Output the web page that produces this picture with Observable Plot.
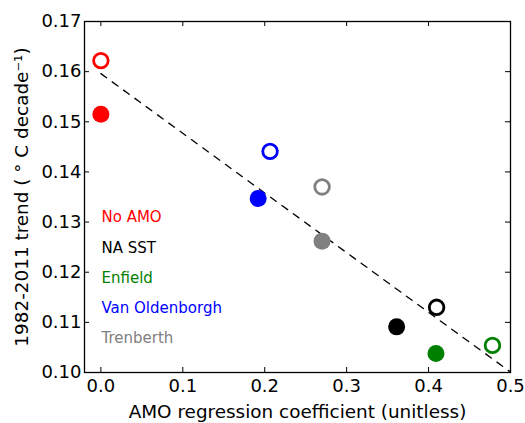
<!DOCTYPE html>
<html>
<head>
<meta charset="utf-8">
<script src="https://cdn.jsdelivr.net/npm/d3@7"></script>
<script src="https://cdn.jsdelivr.net/npm/@observablehq/plot@0.6"></script>
<style>
  html, body { margin: 0; padding: 0; background: #fff; }
  svg { font-family: "DejaVu Sans", sans-serif; }
</style>
</head>
<body>
<div id="chart"></div>
<script>
const datasets = ["No AMO", "NA SST", "Enfield", "Van Oldenborgh", "Trenberth"];
const colors = ["#ff0000", "#000000", "#008000", "#0000ff", "#808080"];
const filledX = [0.0, 0.361, 0.409, 0.192, 0.270];
const filledY = [0.1515, 0.1091, 0.1038, 0.1347, 0.1262];
const openX = [0.0, 0.4098, 0.478, 0.2065, 0.270];
const openY = [0.1622, 0.1130, 0.1054, 0.1441, 0.1370];
const fitX = [0.0, 0.5];
const fitY = [0.1596, 0.1001];
const xTicks = [0.0, 0.1, 0.2, 0.3, 0.4, 0.5];
const yTicks = [0.10, 0.11, 0.12, 0.13, 0.14, 0.15, 0.16, 0.17];

const filled = datasets.map((name, i) => ({name, x: filledX[i], y: filledY[i], color: colors[i]}));
const open = datasets.map((name, i) => ({name, x: openX[i], y: openY[i], color: colors[i]}));
const fit = fitX.map((x, i) => ({x, y: fitY[i]}));

const W = 525, H = 423;
const mL = 84, mR = 15, mT = 21, mB = 51;
const plotH = H - mT - mB, plotW = W - mL - mR;
const tk = 5;

const legendMarks = datasets.map((name, i) =>
  Plot.text([name], {fill: colors[i], frameAnchor: "top-left", dx: 17, dy: 196 + i * 30.25, fontSize: 15, textAnchor: "start", lineAnchor: "middle"})
);

const chart = Plot.plot({
  width: W,
  height: H,
  marginLeft: mL,
  marginRight: mR,
  marginTop: mT,
  marginBottom: mB,
  style: {fontFamily: "DejaVu Sans, sans-serif", background: "#fff"},
  x: {domain: [-0.02, 0.5]},
  y: {domain: [0.10, 0.17]},
  marks: [
    Plot.line(fit, {x: "x", y: "y", stroke: "#000", strokeWidth: 1.3, strokeDasharray: "7,7"}),
    Plot.dot(filled, {x: "x", y: "y", r: 8.5, fill: d => d.color, stroke: "none"}),
    Plot.dot(open, {x: "x", y: "y", r: 7.3, fill: "none", stroke: d => d.color, strokeWidth: 2.8}),
    Plot.ruleX(xTicks, {x: d => d, stroke: "#000", strokeWidth: 1, insetTop: plotH - tk}),
    Plot.ruleX(xTicks, {x: d => d, stroke: "#000", strokeWidth: 1, insetBottom: plotH - tk}),
    Plot.ruleY(yTicks, {y: d => d, stroke: "#000", strokeWidth: 1, insetRight: plotW - tk}),
    Plot.ruleY(yTicks, {y: d => d, stroke: "#000", strokeWidth: 1, insetLeft: plotW - tk}),
    Plot.frame({stroke: "#000", strokeWidth: 1.3}),
    Plot.axisX(xTicks, {tickSize: 0, tickPadding: 7, fontSize: 18, tickFormat: d3.format(".1f"), label: null}),
    Plot.axisY(yTicks, {tickSize: 0, tickPadding: 3, fontSize: 18, tickFormat: d3.format(".2f"), label: null}),
    Plot.text(["AMO regression coefficient (unitless)"], {frameAnchor: "bottom", dy: 45, fontSize: 18.4, fill: "#000", lineAnchor: "bottom"}),
    Plot.text(["1982-2011 trend ( \u00B0 C decade\u207B\u00B9)"], {frameAnchor: "left", dx: -62, rotate: -90, fontSize: 18.4, fill: "#000", textAnchor: "middle"}),
    ...legendMarks
  ]
});
document.getElementById("chart").appendChild(chart);
</script>
</body>
</html>
